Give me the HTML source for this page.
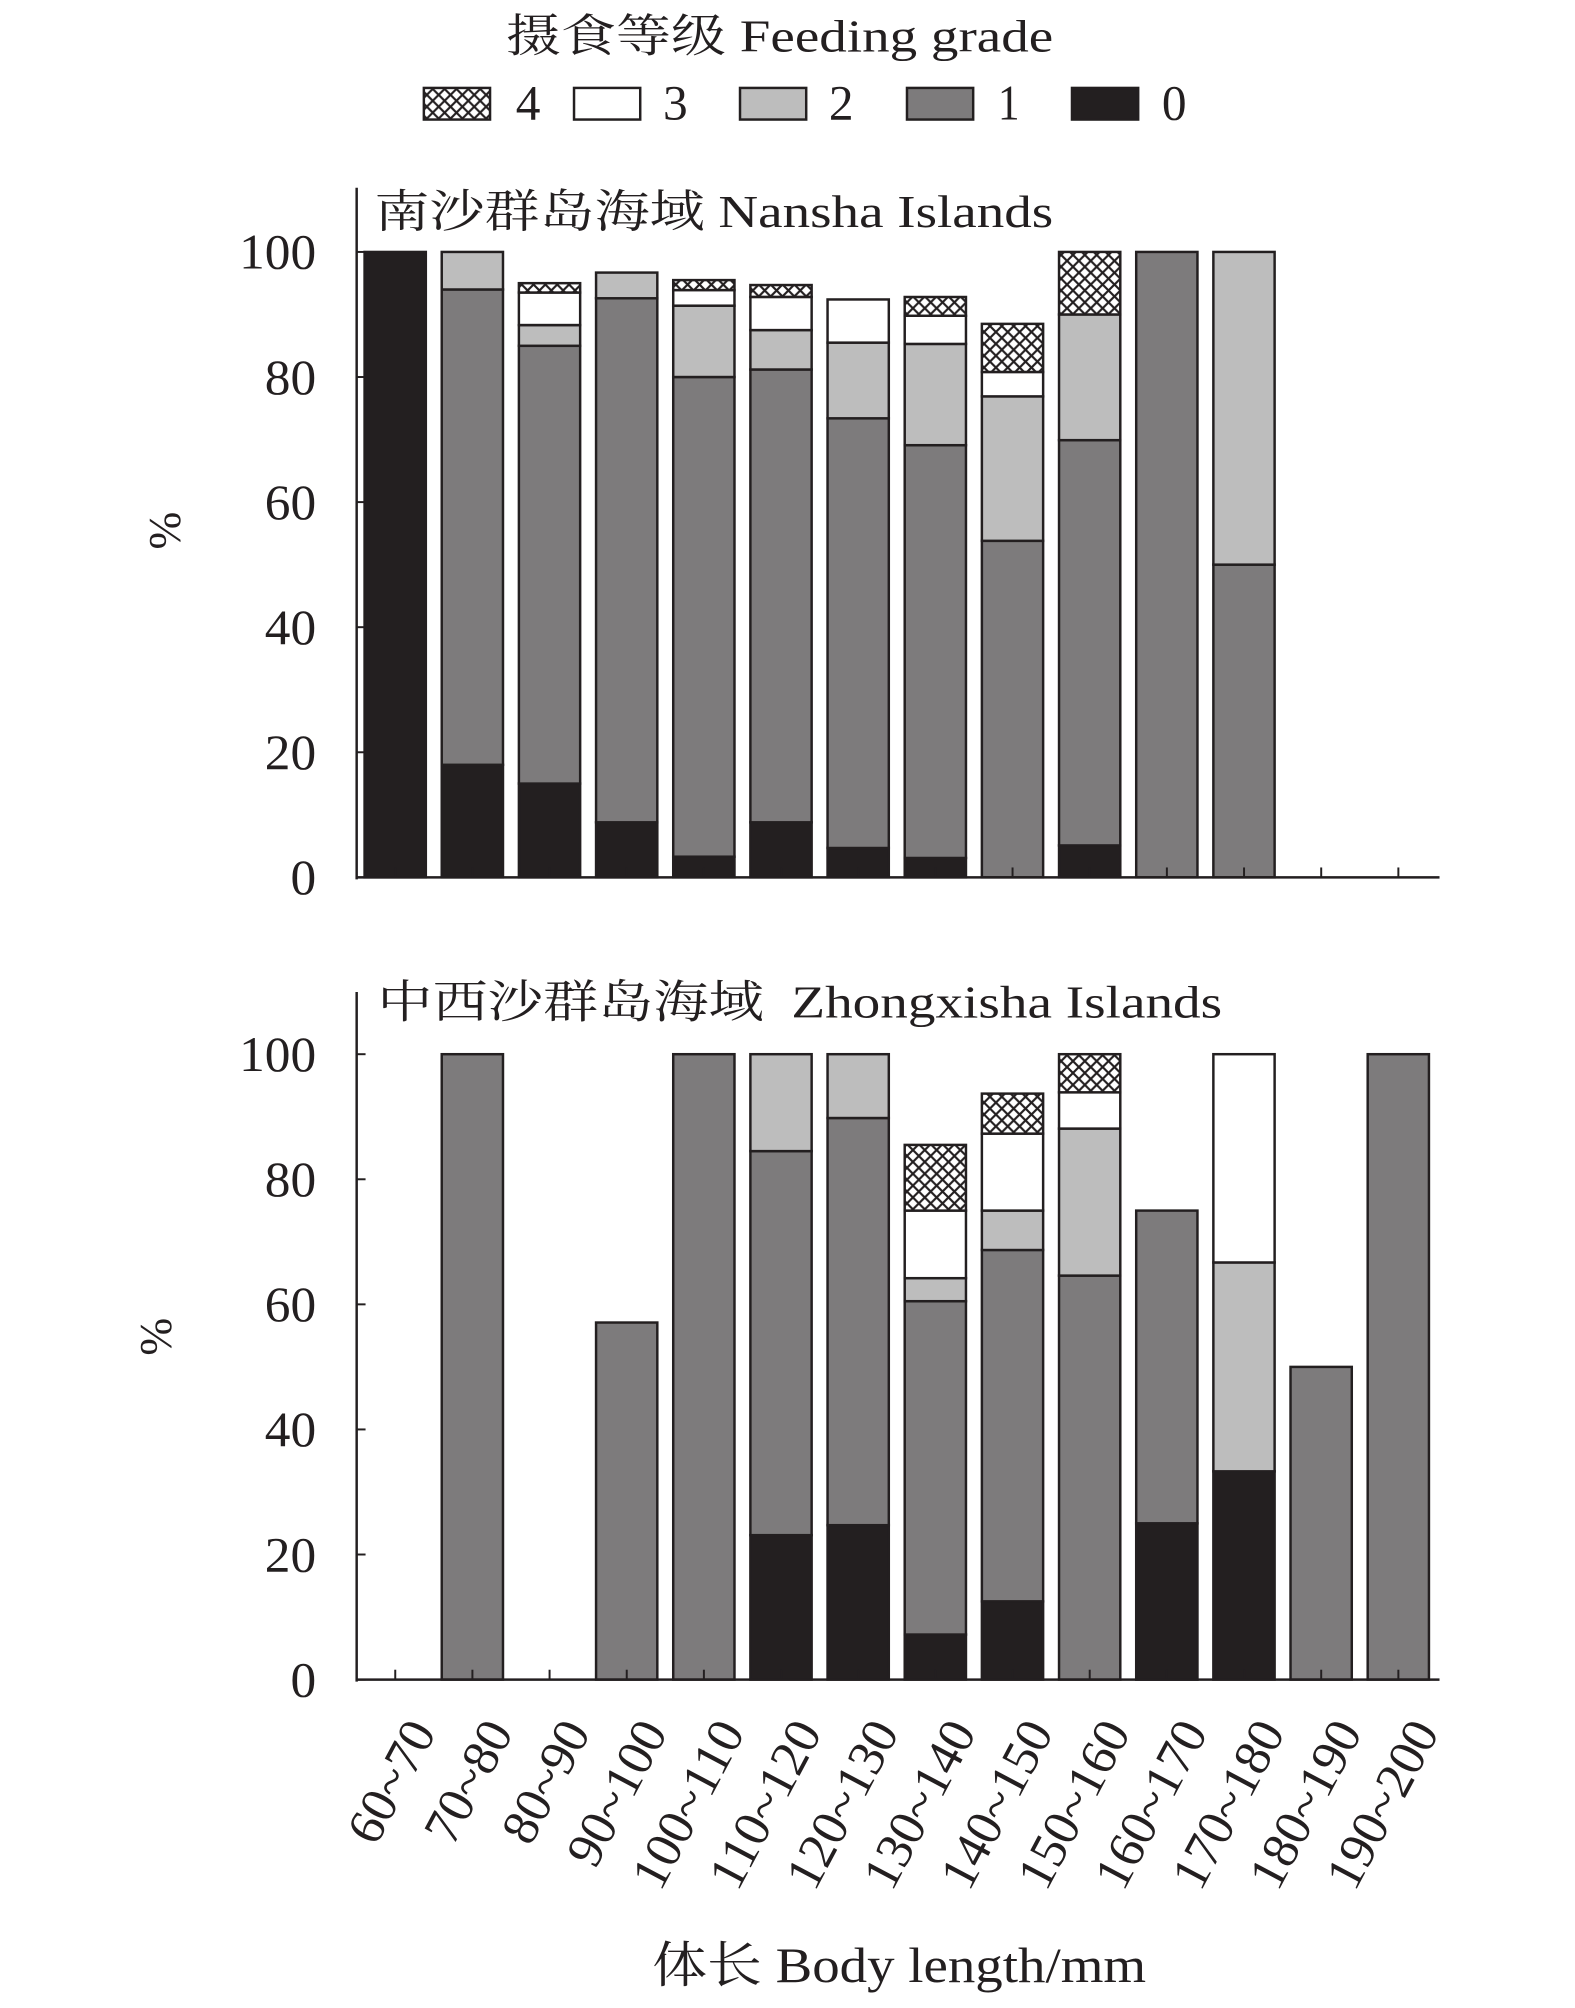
<!DOCTYPE html>
<html><head><meta charset="utf-8"><style>
html,body{margin:0;padding:0;background:#fff}
svg{display:block}
text{font-family:"Liberation Serif","Times New Roman","Noto Serif CJK SC","Noto Sans CJK SC",serif;fill:#231f20}
</style></head><body>
<svg id="s" width="1575" height="2008" viewBox="0 0 1575 2008" xmlns="http://www.w3.org/2000/svg">
<defs>
<pattern id="hx" width="12" height="12" patternUnits="userSpaceOnUse">
<rect width="12" height="12" fill="#fff"/>
<path d="M0,0L12,12M12,0L0,12" stroke="#231f20" stroke-width="2.2"/>
</pattern>
</defs>
<g transform="scale(0.988)">
<text x="512" y="52" font-size="46" textLength="554" lengthAdjust="spacingAndGlyphs">摄食等级 Feeding grade</text>
<g stroke="#231f20" stroke-width="2.5">
<rect x="429" y="89" width="67" height="32" fill="url(#hx)"/>
<rect x="581" y="89" width="67" height="32" fill="#fff"/>
<rect x="749" y="89" width="67" height="32" fill="#bdbdbd"/>
<rect x="918" y="89" width="67" height="32" fill="#7d7b7c"/>
<rect x="1085" y="89" width="67" height="32" fill="#231f20"/>
</g>
<g font-size="50">
<text x="522" y="121" textLength="25" lengthAdjust="spacingAndGlyphs">4</text><text x="671" y="121" textLength="25" lengthAdjust="spacingAndGlyphs">3</text><text x="839" y="121" textLength="25" lengthAdjust="spacingAndGlyphs">2</text><text x="1010" y="121" textLength="22" lengthAdjust="spacingAndGlyphs">1</text><text x="1176" y="121" textLength="25" lengthAdjust="spacingAndGlyphs">0</text>
</g>
<g id="g"></g>
<text x="660" y="2006" font-size="50" textLength="500" lengthAdjust="spacingAndGlyphs">体长 Body length/mm</text>
</g>
</svg>
<script>
var g=document.getElementById('g'),h='';
var cols=['#231f20','#7d7b7c','#bdbdbd','#fff','url(#hx)'];
var top1=[[100],[18,94,100],[15,85,88.3,93.5,95],[8.8,92.6,96.7],[3.3,80,91.4,93.9,95.5],[8.8,81.2,87.5,92.8,94.7],[4.7,73.4,85.5,92.4],[3.1,69.1,85.3,89.8,92.8],[0,53.8,76.9,80.8,88.5],[5.1,69.9,90,90,100],[0,100],[0,50,100],[],[]];
var bot=[[],[0,100],[],[0,57.1],[0,100],[23.1,84.5,100],[24.7,89.8,100],[7.2,60.5,64.2,75,85.5],[12.5,68.7,75,87.3,93.7],[0,64.6,88.1,93.9,100],[25,75],[33.3,33.3,66.7,100],[0,50],[0,100]];
function panel(data,y0,y100,ytop,title,tx,ty,tl,pl){
 var k=(y0-y100)/100,ax=361,pitch=78.1;
 h+='<text x="'+tx+'" y="'+ty+'" font-size="46" textLength="'+tl+'" lengthAdjust="spacingAndGlyphs">'+title+'</text>';
 for(var i=0;i<14;i++){
  var d=data[i],x=ax+pitch*i+8,prev=0;
  for(var j=0;j<d.length;j++){
   var v=d[j];if(v-prev>0.01){
    var yt=y0-v*k,yb=y0-prev*k;
    h+='<rect x="'+x.toFixed(1)+'" y="'+yt.toFixed(1)+'" width="62" height="'+(yb-yt).toFixed(1)+'" fill="'+cols[j]+'" stroke="#231f20" stroke-width="2.5"/>';}
   prev=v;}
  var cx=ax+pitch*(i+0.5);
  h+='<line x1="'+cx+'" y1="'+y0+'" x2="'+cx+'" y2="'+(y0-10)+'" stroke="#231f20" stroke-width="2"/>';
 }
 h+='<line x1="'+ax+'" y1="'+ytop+'" x2="'+ax+'" y2="'+(y0+2)+'" stroke="#231f20" stroke-width="2.5"/>';
 h+='<line x1="'+(ax-1)+'" y1="'+y0+'" x2="1457" y2="'+y0+'" stroke="#231f20" stroke-width="2.5"/>';
 for(var t=0;t<=100;t+=20){var y=y0-t*k;var s=String(t);
  h+='<line x1="'+ax+'" y1="'+y+'" x2="'+(ax+9)+'" y2="'+y+'" stroke="#231f20" stroke-width="2"/>';
  h+='<text x="320" y="'+(y+17)+'" font-size="50" text-anchor="end" textLength="'+(s.length*26)+'" lengthAdjust="spacingAndGlyphs">'+s+'</text>';}
 h+='<text transform="translate('+pl[0]+','+pl[1]+') rotate(-90)" font-size="46" text-anchor="middle">%</text>';
}
panel(top1,888,255,190,'南沙群岛海域 Nansha Islands',379,230,687,[182,537]);
panel(bot,1700,1067,1004,'中西沙群岛海域&#160; Zhongxisha Islands',382,1030,855,[173,1353]);
var labs=['60~70','70~80','80~90','90~100','100~110','110~120','120~130','130~140','140~150','150~160','160~170','170~180','180~190','190~200'];
for(var i=0;i<14;i++){var cx=361+78.1*(i+0.5)+10;var L=labs[i].length*26+2;
 h+='<text transform="translate('+cx.toFixed(1)+',1736) rotate(-62)" font-size="52" text-anchor="end" dominant-baseline="hanging" textLength="'+L+'" lengthAdjust="spacingAndGlyphs">'+labs[i]+'</text>';}
g.innerHTML=h;
</script>
</body></html>
